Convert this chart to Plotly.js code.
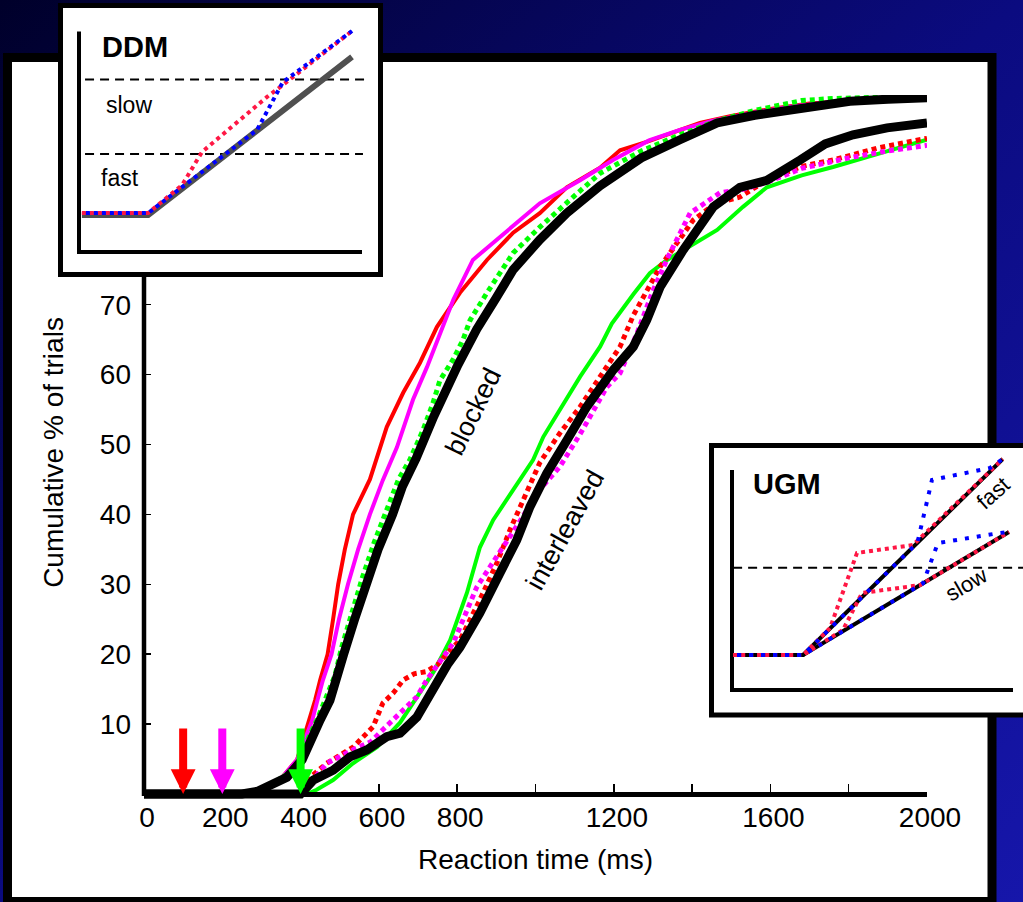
<!DOCTYPE html>
<html><head><meta charset="utf-8">
<script src="https://cdn.plot.ly/plotly-3.0.1.min.js"></script>
<style>
html,body{margin:0;padding:0;overflow:hidden;}
#chart{width:1023px;height:902px;background:linear-gradient(to bottom right,#00002a 0%,#0b0b80 50%,#1616aa 100%);}
</style></head><body><div id="chart"></div>
<script>
// ---------- main chart data (reaction time in ms, cumulative %) ----------
const blockedRedX = [0,280,314,347,391,406,424,437,450,469,483,496,513,534,577,605,620,662,705,748,807,876,943,1011,1080,1165,1216,1284,1369,1420,1500,1600,1700,1800,1900,2000];
const blockedRedY = [0,0,0.6,2,4.9,7.7,10.6,13.4,16.3,20,25,30,35,40,45,50,52.5,57.4,61.7,66.8,71.7,76.4,80.3,83.1,86.8,89.6,92.1,93.3,95,96,97,98,98.8,99.2,99.5,99.7];

const blockedMagentaX = [0,285,314,347,391,410,430,443,457,479,498,521,547,577,610,646,687,723,764,790,840,909,1011,1114,1198,1290,1369,1450,1560,1660,1760,1900,2000];
const blockedMagentaY = [0,0,0.6,2,4.9,7.7,10.6,13.4,16.3,20,25,30,35,40,44.9,49.6,56.4,61.1,66.8,70.7,76.4,79.7,84.5,87.8,90.7,93.5,95,96.3,97.5,98.4,99,99.4,99.6];

const blockedGreenX = [0,260,300,330,370,400,420,445,468,488,505,530,558,588,622,650,679,713,738,756,789,815,833,876,943,1011,1096,1165,1270,1369,1464,1560,1680,1760,1900,2000];
const blockedGreenY = [0,0,0.5,1.5,3,5,8,11,14,17,21,26,31,36,41,45,47.8,52.1,55.9,59.2,62.1,65,67.8,71.7,77.4,81.1,85.4,88.8,92,94.3,96.3,97.8,99.2,99.5,99.7,99.8];

const blockedBlackX = [0,250,290,314,365,404,424,450,475,493,510,538,567,598,635,660,695,740,802,850,900,943,1011,1080,1165,1270,1369,1464,1560,1658,1750,1803,1900,2000];
const blockedBlackY = [0,0,0.4,1,2.4,4.9,7.7,10.6,13.4,16.3,20,25,30,35,40,44,48,54,61.4,66.5,71,75,79.3,83.1,87,91,93.6,96,97.1,97.9,98.7,99.1,99.4,99.6];

const interGreenX = [0,416,441,483,534,595,654,700,740,782,825,858,892,943,994,1020,1071,1114,1165,1195,1250,1292,1336,1400,1464,1530,1591,1680,1760,1888,2000];
const interGreenY = [0,0,0.6,2,4.4,6.7,10.2,14,17.5,22,28.8,35.3,39.2,43.5,47.8,51.1,55.9,59.7,64,67.3,71.5,74.5,76.4,78.5,80.7,84,86.8,88.5,89.7,91.8,93.6];

const interRedX = [0,400,416,467,534,585,610,636,662,690,720,750,780,807,858,901,935,968,1011,1062,1114,1165,1216,1250,1290,1318,1403,1460,1522,1591,1680,1760,1880,2000];
const interRedY = [0,0,2,4.4,6.7,9.6,13,14.4,16.3,17.2,17.5,18.5,20.5,22,27.8,33,37.8,42.1,47.4,51.6,55.4,59.7,64,68.5,72.5,75.4,82.1,84.5,85.4,87.8,89.8,90.7,92.5,93.8];

const interMagentaX = [0,400,416,467,540,580,610,654,697,722,756,790,850,909,960,1010,1062,1114,1182,1216,1260,1300,1340,1395,1471,1530,1591,1680,1800,1900,2000];
const interMagentaY = [0,0,1,4.4,6.5,7.5,9.2,11.6,13.9,16.3,19,21.6,29.6,34.5,39,43.5,46.8,51.5,58.2,60.2,66,72,77,83.1,86,86.5,87.5,89.5,91,92,92.8];

const interBlackX = [0,400,433,483,526,569,620,654,697,731,748,775,807,858,909,952,986,1029,1080,1131,1199,1250,1284,1318,1377,1420,1454,1522,1591,1676,1740,1811,1898,2000];
const interBlackY = [0,0,2,3.4,5.3,6.3,8.2,8.7,11,14.4,16.3,18.5,21,25.9,31.6,36.3,41.1,45.9,50.6,55.4,60.7,64,67.8,72.5,77.8,81.5,84,86.8,87.8,90.7,93,94.3,95.3,96];

const xTickVals = [0,200,400,600,800,1000,1200,1400,1600,1800,2000];
const xTickText = ['0','200','400','600','800','','1200','','1600','','2000'];
const yTickVals = [10,20,30,40,50,60,70];

const arrowTimes = [100, 200, 400];
const arrowColors = ['#ff0000', '#ff00ff', '#00ff00'];

// ---------- DDM inset schematic (arbitrary units) ----------
const ddmModelX = [0.10, 2.40, 9.48];
const ddmModelY = [1.71, 1.71, 8.83];
const ddmRedX = [0.10, 2.40, 3.58, 4.27, 6.53, 7.08, 9.48];
const ddmRedY = [1.80, 1.80, 3.06, 4.55, 7.03, 7.57, 10.0];
const ddmBlueX = [0.10, 2.40, 6.18, 7.08, 9.48];
const ddmBlueY = [1.80, 1.80, 5.54, 7.70, 10.0];
const ddmSlowX = [0.21, 10.0];  const ddmSlowY = [7.82, 7.82];
const ddmFastX = [0.21, 9.86];  const ddmFastY = [4.46, 4.46];

// ---------- UGM inset schematic (arbitrary units) ----------
const ugmFastX = [0.04, 2.53, 9.64];  const ugmFastY = [1.59, 1.59, 10.5];
const ugmSlowX = [0.04, 2.53, 9.86];  const ugmSlowY = [1.59, 1.59, 7.18];
const ugmRedFastX = [0.04, 2.53, 3.49, 4.45, 6.44, 9.64];
const ugmRedFastY = [1.59, 1.59, 2.82, 6.23, 6.59, 10.5];
const ugmRedSlowX = [0.04, 2.53, 3.95, 4.63, 6.70, 9.86];
const ugmRedSlowY = [1.59, 1.59, 2.73, 4.41, 4.77, 7.18];
const ugmBlueFastX = [0.04, 2.53, 6.60, 7.12, 9.18, 9.64];
const ugmBlueFastY = [1.59, 1.59, 6.69, 9.55, 10.09, 10.5];
const ugmBlueSlowX = [0.04, 2.53, 6.80, 7.33, 9.54, 9.86];
const ugmBlueSlowY = [1.59, 1.59, 4.85, 6.68, 7.14, 7.18];
const ugmThreshX = [0.04, 10.36]; const ugmThreshY = [5.56, 5.56];

// ---------- helpers ----------
const W = 1023, H = 902;
const px = v => v / W;
const py = v => (H - v) / H;
const FONT = 'Liberation Sans, Arial, Helvetica, sans-serif';

function ln(x, y, color, width, dash, xa, ya) {
  return {type: 'scatter', mode: 'lines', x: x, y: y, xaxis: xa || 'x', yaxis: ya || 'y',
    line: {color: color, width: width, dash: dash || 'solid'}, hoverinfo: 'skip', showlegend: false};
}
const DOT = '5px,4px';

const traces = [
  ln(blockedRedX, blockedRedY, '#ff0000', 4),
  ln(blockedMagentaX, blockedMagentaY, '#ff00ff', 4),
  ln(blockedGreenX, blockedGreenY, '#00ff00', 5, DOT),
  ln(interGreenX, interGreenY, '#00ff00', 4),
  ln(interRedX, interRedY, '#ff0000', 5, DOT),
  ln(interMagentaX, interMagentaY, '#ff00ff', 5, DOT),
  ln(interBlackX, interBlackY, '#000000', 9),
  ln(blockedBlackX, blockedBlackY, '#000000', 9),
  // DDM inset
  ln(ddmSlowX, ddmSlowY, '#000000', 2, '9px,6px', 'x2', 'y2'),
  ln(ddmFastX, ddmFastY, '#000000', 2, '9px,6px', 'x2', 'y2'),
  ln(ddmModelX, ddmModelY, '#505050', 6, null, 'x2', 'y2'),
  ln(ddmRedX, ddmRedY, '#ff1744', 4, '4px,4px', 'x2', 'y2'),
  ln(ddmBlueX, ddmBlueY, '#0000ff', 4, '0px,4px,4px,0px', 'x2', 'y2'),
  // UGM inset
  ln(ugmThreshX, ugmThreshY, '#000000', 2, '9px,6px', 'x3', 'y3'),
  ln(ugmFastX, ugmFastY, '#000000', 4, null, 'x3', 'y3'),
  ln(ugmSlowX, ugmSlowY, '#000000', 4, null, 'x3', 'y3'),
  ln(ugmRedFastX, ugmRedFastY, '#ff1744', 4, '4px,4px', 'x3', 'y3'),
  ln(ugmRedSlowX, ugmRedSlowY, '#ff1744', 4, '4px,4px', 'x3', 'y3'),
  ln(ugmBlueFastX, ugmBlueFastY, '#0000ff', 4, '0px,4px,4px,4px', 'x3', 'y3'),
  ln(ugmBlueSlowX, ugmBlueSlowY, '#0000ff', 4, '0px,4px,4px,4px', 'x3', 'y3')
];

function rect(x0, y0, x1, y1, lw) {
  return {type: 'rect', xref: 'paper', yref: 'paper', x0: px(x0), x1: px(x1), y0: py(y1), y1: py(y0),
    fillcolor: '#ffffff', line: {color: '#000000', width: lw}, layer: 'below'};
}
function seg(x0, y0, x1, y1, lw) {
  return {type: 'line', xref: 'paper', yref: 'paper', x0: px(x0), x1: px(x1), y0: py(y0), y1: py(y1),
    line: {color: '#000000', width: lw}, layer: 'below'};
}
const shapes = [
  rect(7.5, 57.5, 992, 901.5, 9),     // white slide frame
  seg(144, 796, 144, 276, 4.5),       // main y axis line (hidden under DDM box above)
  rect(60.5, 5.5, 380.5, 274.5, 5),   // DDM box
  seg(79, 31.5, 79, 254, 4),
  seg(77, 252, 362, 252, 4),
  rect(711.5, 445.5, 1040, 715, 5),   // UGM box
  seg(732, 470, 732, 692, 4),
  seg(730, 690, 1013, 690, 4)
];

function txt(text, x, y, size, angle) {
  return {text: text, xref: 'paper', yref: 'paper', x: px(x), y: py(y), xanchor: 'center', yanchor: 'middle',
    showarrow: false, textangle: angle || 0, font: {family: FONT, size: size, color: '#000000'}};
}
const annotations = [
  txt('blocked', 473, 412, 27, -64),
  txt('interleaved', 565, 530, 27, -61),
  txt('<b>DDM</b>', 135, 47, 29),
  txt('slow', 129, 105, 23),
  txt('fast', 120, 178, 23),
  txt('<b>UGM</b>', 787, 484, 29),
  txt('fast', 993, 494, 22, -42),
  txt('slow', 966, 584, 22, -30)
];
arrowTimes.forEach((t, i) => {
  annotations.push({x: t, y: 0, ax: t, ay: 9.6, xref: 'x', yref: 'y', axref: 'x', ayref: 'y',
    text: '', showarrow: true, arrowhead: 2, arrowsize: 0.62, arrowwidth: 8,
    arrowcolor: arrowColors[i], standoff: 0});
});

const layout = {
  width: W, height: H,
  margin: {l: 0, r: 0, t: 0, b: 0, pad: 0},
  paper_bgcolor: 'rgba(0,0,0,0)', plot_bgcolor: 'rgba(0,0,0,0)',
  font: {family: FONT, color: '#000000', size: 28},
  showlegend: false,
  xaxis: {
    domain: [px(144), px(927)], range: [0, 2000], anchor: 'free', position: py(794),
    showline: true, linecolor: '#000000', linewidth: 4.5, zeroline: false, showgrid: false,
    ticks: 'inside', ticklen: 8, tickwidth: 1.5, tickcolor: '#000000',
    tickmode: 'array', tickvals: xTickVals, ticktext: xTickText,
    tickfont: {family: FONT, size: 28, color: '#000000'}, ticklabelstandoff: -3, ticklabelshift: 3,
    title: {text: 'Reaction time (ms)', font: {family: FONT, size: 28, color: '#000000'}, standoff: 17}
  },
  yaxis: {
    domain: [py(810), py(95)], range: [-2.29, 100], anchor: 'x',
    showline: false, zeroline: false, showgrid: false,
    ticks: 'inside', ticklen: 7, tickwidth: 1.5, tickcolor: '#000000',
    tickmode: 'array', tickvals: yTickVals,
    tickfont: {family: FONT, size: 28, color: '#000000'}, ticklabelstandoff: 12,
    title: {text: 'Cumulative % of trials', font: {family: FONT, size: 28, color: '#000000'}, standoff: 28}
  },
  xaxis2: {domain: [px(79), px(367)], range: [0, 10], anchor: 'y2', visible: false},
  yaxis2: {domain: [py(253), py(19.9)], range: [0, 10.5], anchor: 'x2', visible: false},
  xaxis3: {domain: [px(732), 1], range: [0, 10.36], anchor: 'y3', visible: false},
  yaxis3: {domain: [py(690), py(445.8)], range: [0, 11.1], anchor: 'x3', visible: false},
  shapes: shapes,
  annotations: annotations
};

Plotly.newPlot('chart', traces, layout, {staticPlot: true, displayModeBar: false});
</script></body></html>
